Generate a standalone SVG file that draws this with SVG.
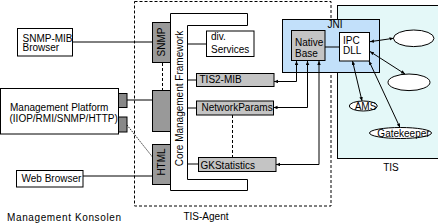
<svg xmlns="http://www.w3.org/2000/svg" width="438" height="223" viewBox="0 0 438 223">
<style>
text{font-family:"Liberation Sans",Arial,sans-serif;font-size:10px;fill:#000}
.box{fill:#fff;stroke:#000;stroke-width:1}
.dark{fill:#999;stroke:#000;stroke-width:1}
.port{fill:#888;stroke:#000;stroke-width:1}
.light{fill:#c4c4c4;stroke:#000;stroke-width:1}
.ell{fill:#fff;stroke:#000;stroke-width:1}
.ln{fill:none;stroke:#000;stroke-width:1}
.dash{fill:none;stroke:#000;stroke-width:1;stroke-dasharray:3,2}
.dot{fill:none;stroke:#000;stroke-width:0.8;stroke-dasharray:1.5,1}
.arr{fill:none;stroke:#000;stroke-width:1;marker-start:url(#ah);marker-end:url(#ah)}
.mid{text-anchor:middle}
</style>
<defs>
<marker id="ah" markerUnits="userSpaceOnUse" markerWidth="5" markerHeight="4" refX="4" refY="1.75" orient="auto-start-reverse">
<path d="M0,0 L4,1.75 L0,3.5 z" fill="#000"/>
</marker>
</defs>

<g id="tis-agent">
<rect x="134.5" y="1.5" width="196.5" height="204.5" class="dash"/>
<text x="206" y="220" class="mid">TIS-Agent</text>
</g>

<g id="tis">
<rect x="337.5" y="5.5" width="102" height="153" fill="#e4f8f8" stroke="#000"/>
<text x="391" y="171" class="mid">TIS</text>
</g>

<g id="konsolen-label">
<text x="7" y="221" textLength="114" lengthAdjust="spacing">Management Konsolen</text>
</g>

<g id="snmp-mib-browser">
<rect x="17.5" y="28.5" width="55" height="27.5" class="box"/>
<text x="22.5" y="41.5">SNMP-MIB</text>
<text x="22.5" y="51">Browser</text>
</g>

<g id="management-platform">
<rect x="0.5" y="88.5" width="118" height="45.5" class="box"/>
<text x="10" y="110.5">Management Platform</text>
<text x="9.5" y="121.5">(IIOP/RMI/SNMP/HTTP)</text>
<rect x="118.5" y="93.5" width="8.5" height="14" class="port"/>
<rect x="118.5" y="117" width="8.5" height="15" class="port"/>
</g>

<g id="web-browser">
<rect x="16.5" y="170.5" width="66.5" height="16.5" class="box"/>
<text x="21.5" y="181.5">Web Browser</text>
</g>

<g id="snmp">
<rect x="152.5" y="22.5" width="18" height="40" class="dark"/>
<text transform="translate(164.5,42) rotate(-90)" class="mid">SNMP</text>
</g>

<g id="adapter">
<rect x="152.5" y="90.5" width="18" height="41" class="dark"/>
</g>

<g id="html">
<rect x="152.5" y="144.5" width="18" height="40" class="dark"/>
<text transform="translate(165,162) rotate(-90)" class="mid">HTML</text>
</g>

<g id="core-management-framework">
<polygon points="170.5,13.5 247.5,13.5 247.5,25.5 187.5,25.5 187.5,179.5 247.5,179.5 247.5,190.5 170.5,190.5" class="box"/>
<text transform="translate(183,98.5) rotate(-90)" class="mid">Core Management Framework</text>
</g>

<g id="div-services">
<rect x="206.5" y="31" width="47.5" height="25.5" class="box"/>
<text x="211" y="40">div.</text>
<text x="211" y="52.5">Services</text>
</g>

<g id="tis2-mib">
<rect x="196.5" y="73.5" width="77.5" height="13" class="light"/>
<text x="199.5" y="83">TIS2-MIB</text>
</g>

<g id="networkparams">
<rect x="196.5" y="101" width="77" height="14" class="light"/>
<text x="201.5" y="111">NetworkParams</text>
</g>

<g id="gkstatistics">
<rect x="198.5" y="157.5" width="77.5" height="14" class="light"/>
<text x="200.5" y="168.5">GKStatistics</text>
</g>

<g id="jni">
<rect x="282.5" y="19.5" width="97" height="53" fill="#c2e0fa" stroke="#000"/>
<text x="335" y="28" class="mid">JNI</text>
</g>

<g id="native-base">
<rect x="291.5" y="30.5" width="33.5" height="30" class="light"/>
<text x="295" y="45.5">Native</text>
<text x="295" y="56.5">Base</text>
</g>

<g id="ipc-dll">
<rect x="339.5" y="32.5" width="30" height="28.5" class="box"/>
<text x="343" y="43.5">IPC</text>
<text x="343" y="54">DLL</text>
</g>

<g id="process1">
<ellipse cx="413.7" cy="38.3" rx="20.3" ry="8.3" class="ell"/>
</g>
<g id="process2">
<ellipse cx="409" cy="82.3" rx="21" ry="8.3" class="ell"/>
</g>
<g id="ams">
<ellipse cx="363.3" cy="106" rx="14" ry="5" class="ell"/>
<text x="365.5" y="109.5" class="mid">AMS</text>
</g>
<g id="gatekeeper">
<ellipse cx="400.5" cy="133" rx="31" ry="5.5" class="ell"/>
<text x="403.5" y="137" class="mid">Gatekeeper</text>
</g>

<g id="connectors">
<line x1="73" y1="42" x2="152.5" y2="42" class="ln"/>
<line x1="127" y1="100" x2="152.5" y2="100" class="ln"/>
<line x1="127" y1="125" x2="152.5" y2="157" class="dot"/>
<line x1="83" y1="176" x2="152.5" y2="176" class="ln"/>
<line x1="162.5" y1="63" x2="162.5" y2="90" class="dash"/>
<line x1="187.5" y1="44" x2="206.5" y2="44" class="ln"/>
<line x1="187.5" y1="80" x2="196.5" y2="80" class="ln"/>
<line x1="187.5" y1="108" x2="196.5" y2="108" class="ln"/>
<line x1="187.5" y1="164" x2="198.5" y2="164" class="ln"/>
<line x1="232.5" y1="115" x2="232.5" y2="157" class="dash"/>
<polyline points="274,81.5 296.5,81.5 296.5,61" class="arr"/>
<polyline points="273.5,107.5 307.5,107.5 307.5,61" class="arr"/>
<polyline points="276,164.5 319,164.5 319,61" class="arr"/>
<line x1="325" y1="47" x2="339.5" y2="47" class="ln"/>
<line x1="370" y1="41.7" x2="393.5" y2="38.3" class="arr"/>
<line x1="370" y1="51.5" x2="405" y2="74" class="arr"/>
<line x1="352.5" y1="61" x2="362" y2="101" class="arr"/>
<line x1="369" y1="61" x2="400" y2="127.5" class="arr"/>
</g>
</svg>
